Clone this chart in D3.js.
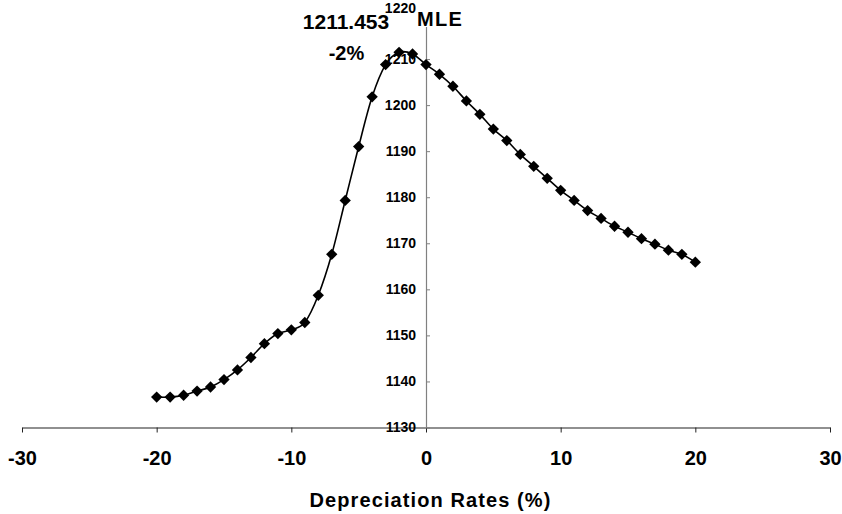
<!DOCTYPE html>
<html>
<head>
<meta charset="utf-8">
<script src="https://cdn.jsdelivr.net/npm/d3@7"></script>
<style>
  html, body { margin: 0; padding: 0; background: #fff; }
  svg { display: block; font-family: "Liberation Sans", Arial, sans-serif; }
</style>
</head>
<body>
<svg id="chart" width="842" height="514"></svg>
<script>
// Depreciation rate (%) on x, log-likelihood on y
const rates = [-20,-19,-18,-17,-16,-15,-14,-13,-12,-11,-10,-9,-8,-7,-6,-5,-4,-3,-2,-1,
               0,1,2,3,4,5,6,7,8,9,10,11,12,13,14,15,16,17,18,19,20];
const logLik = [1136.6,1136.6,1137.0,1137.9,1138.8,1140.4,1142.5,1145.2,1148.2,1150.4,
                1151.2,1152.8,1158.7,1167.6,1179.3,1191.0,1201.8,1208.8,1211.453,1211.1,
                1208.8,1206.7,1204.1,1200.9,1198.0,1194.8,1192.3,1189.3,1186.7,1184.1,
                1181.5,1179.3,1177.1,1175.4,1173.7,1172.4,1171.0,1169.8,1168.5,1167.6,1165.9];
const xTicks = [-30,-20,-10,0,10,20,30];
const yTicks = [1130,1140,1150,1160,1170,1180,1190,1200,1210,1220];
const mleValueLabel = "1211.453";
const mleRateLabel = "-2%";
const mleTag = "MLE";
const xTitle = "Depreciation Rates (%)";

const svg = d3.select("#chart");
const x = d3.scaleLinear().domain([-30, 30]).range([22, 830]);
const y = d3.scaleLinear().domain([1130, 1220]).range([427.5, 13]);
const plain = d => String(d);

// X axis
const xAxis = svg.append("g")
  .attr("transform", `translate(0,${y(1130)})`)
  .call(d3.axisBottom(x).tickValues(xTicks).tickFormat(plain)
        .tickSizeInner(5).tickSizeOuter(0).tickPadding(18));
xAxis.select(".domain").attr("stroke", "#222").attr("stroke-width", 1.2);
xAxis.selectAll(".tick line").attr("stroke", "#222");
xAxis.selectAll(".tick text").attr("font-size", 20).attr("font-weight", "bold")
  .attr("fill", "#000").attr("font-family", "Liberation Sans, Arial, sans-serif");

// Y axis at x = 0
const yAxis = svg.append("g")
  .attr("transform", `translate(${x(0)},0)`)
  .call(d3.axisLeft(y).tickValues(yTicks).tickFormat(plain)
        .tickSizeInner(-4).tickSizeOuter(0).tickPadding(10));
yAxis.select(".domain").attr("stroke", "#808080").attr("stroke-width", 1.2);
yAxis.selectAll(".tick line").attr("stroke", "#808080");
yAxis.selectAll(".tick text").attr("font-size", 14).attr("font-weight", "bold")
  .attr("fill", "#000").attr("font-family", "Liberation Sans, Arial, sans-serif");
yAxis.selectAll(".tick text").filter(d => d === 1220).attr("dy", "-0.05em");

// Smooth line
const pts = rates.map((r, i) => [r, logLik[i]]);
const line = d3.line().x(d => x(d[0])).y(d => y(d[1])).curve(d3.curveCatmullRom.alpha(0));
svg.append("path").datum(pts).attr("d", line)
  .attr("fill", "none").attr("stroke", "#000").attr("stroke-width", 1.6);

// Diamond markers
const sym = d3.symbol().type(d3.symbolSquare).size(64);
svg.append("g").selectAll("path").data(pts).join("path")
  .attr("d", sym)
  .attr("transform", d => `translate(${x(d[0])},${y(d[1])}) rotate(45)`)
  .attr("fill", "#000");

// Annotations
svg.append("text").attr("x", 346).attr("y", 29).attr("text-anchor", "middle")
  .attr("font-size", 21).attr("font-weight", "bold").text(mleValueLabel);
svg.append("text").attr("x", 346.5).attr("y", 60).attr("text-anchor", "middle")
  .attr("font-size", 20).attr("font-weight", "bold").text(mleRateLabel);
svg.append("rect").attr("x", 416).attr("y", 11).attr("width", 52).attr("height", 16).attr("fill", "#fff");
svg.append("text").attr("x", 417).attr("y", 25.5).attr("text-anchor", "start")
  .attr("font-size", 20).attr("font-weight", "bold").attr("letter-spacing", 1.3).text(mleTag);

// X title
svg.append("text").attr("x", 430.5).attr("y", 507).attr("text-anchor", "middle")
  .attr("font-size", 20).attr("font-weight", "bold").attr("letter-spacing", 1.1).text(xTitle);
</script>
</body>
</html>
